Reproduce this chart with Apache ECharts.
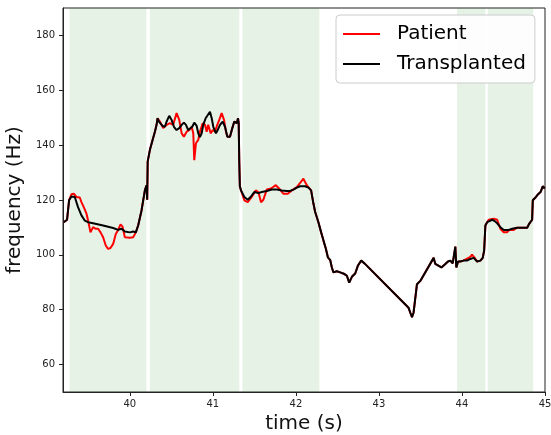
<!DOCTYPE html>
<html><head><meta charset="utf-8">
<script src="https://cdn.jsdelivr.net/npm/echarts@6/dist/echarts.min.js"></script>
<style>html,body{margin:0;padding:0;background:#fff}#c{width:551px;height:435px}</style>
</head><body><div id="c"></div>
<script>
const xTicks = [40, 41, 42, 43, 44, 45];
const yTicks = [60, 80, 100, 120, 140, 160, 180];
const shadeStart = [39.276, 40.241, 41.355, 43.941, 44.310];
const shadeEnd   = [40.200, 41.318, 42.283, 44.282, 44.858];

const transTime = [39.204,39.244,39.268,39.297,39.316,39.337,39.357,39.376,39.417,39.457,39.497,39.557,39.678,39.799,39.859,39.900,39.940,40.000,40.040,40.072,40.100,40.141,40.181,40.201,40.209,40.215,40.241,40.274,40.302,40.322,40.334,40.350,40.370,40.394,40.422,40.443,40.474,40.503,40.531,40.563,40.595,40.624,40.651,40.676,40.703,40.724,40.752,40.776,40.805,40.824,40.844,40.865,40.884,40.913,40.937,40.965,40.986,41.005,41.037,41.058,41.086,41.118,41.146,41.174,41.206,41.234,41.258,41.287,41.303,41.311,41.318,41.325,41.339,41.379,41.420,41.460,41.499,41.548,41.589,41.649,41.709,41.770,41.830,41.890,41.930,41.970,42.011,42.051,42.111,42.151,42.183,42.211,42.232,42.271,42.304,42.332,42.361,42.385,42.413,42.433,42.452,42.493,42.533,42.585,42.614,42.642,42.674,42.714,42.746,42.786,42.826,43.357,43.378,43.398,43.417,43.458,43.498,43.659,43.679,43.700,43.752,43.800,43.832,43.860,43.888,43.920,43.932,43.953,43.981,44.017,44.061,44.101,44.141,44.182,44.222,44.250,44.267,44.282,44.303,44.331,44.363,44.395,44.424,44.463,44.503,44.563,44.604,44.665,44.785,44.813,44.845,44.853,44.885,44.917,44.946,44.973,44.997];
const transFreq = [111.9,112.8,119.9,121.3,121.7,121.1,119.2,117.4,114.4,112.5,111.9,111.5,110.7,109.8,109.1,109.5,108.5,108.2,108.5,108.2,110.7,116.2,123.5,125.4,120.1,134.0,138.2,141.9,144.9,147.4,149.8,148.6,149.2,147.0,146.7,148.6,150.7,149.2,146.7,145.5,146.2,147.4,148.2,147.4,145.5,145.3,146.7,148.2,147.0,144.3,142.9,144.3,147.4,149.8,149.2,152.2,149.8,146.7,144.3,145.5,147.4,148.6,146.7,143.1,143.1,146.2,148.6,148.0,149.8,148.0,134.0,125.0,123.5,121.1,120.1,121.3,122.9,122.5,122.9,123.3,123.8,123.8,123.5,123.3,123.3,123.8,124.5,125.0,125.0,124.5,123.5,118.7,115.6,111.9,108.2,105.2,102.2,99.1,98.1,95.4,93.6,94.0,93.6,93.0,92.4,89.9,92.0,93.2,96.0,97.9,96.9,80.7,78.9,77.3,78.9,89.3,90.5,98.9,96.7,96.0,95.4,96.7,97.6,97.9,96.9,103.0,95.4,97.6,97.6,97.9,97.9,98.5,98.9,97.6,97.9,98.9,101.5,110.7,111.9,112.3,112.8,112.3,111.5,110.1,109.1,109.1,109.5,109.9,109.9,111.5,112.8,119.9,120.9,122.1,122.9,125.0,124.2];

const patientTime = [39.204,39.244,39.268,39.297,39.325,39.357,39.397,39.417,39.445,39.478,39.497,39.526,39.557,39.590,39.618,39.647,39.678,39.710,39.738,39.767,39.799,39.831,39.859,39.888,39.912,39.940,40.000,40.040,40.072,40.100,40.141,40.181,40.201,40.209,40.215,40.241,40.274,40.302,40.322,40.334,40.362,40.402,40.443,40.483,40.522,40.563,40.595,40.624,40.651,40.684,40.715,40.744,40.764,40.776,40.796,40.824,40.844,40.877,40.905,40.925,40.944,40.973,40.998,41.025,41.053,41.077,41.106,41.134,41.158,41.174,41.206,41.234,41.258,41.287,41.303,41.311,41.318,41.325,41.339,41.379,41.420,41.468,41.516,41.548,41.580,41.608,41.649,41.701,41.758,41.797,41.849,41.902,41.951,42.011,42.051,42.090,42.131,42.183,42.211,42.232,42.271,42.304,42.332,42.361,42.385,42.413,42.433,42.452,42.493,42.533,42.585,42.614,42.642,42.674,42.714,42.746,42.786,42.826,43.357,43.378,43.398,43.417,43.458,43.498,43.659,43.679,43.700,43.752,43.800,43.832,43.860,43.888,43.920,43.932,43.953,43.981,44.017,44.041,44.101,44.121,44.153,44.182,44.222,44.250,44.267,44.282,44.303,44.322,44.383,44.424,44.463,44.503,44.543,44.572,44.623,44.665,44.785,44.813,44.845,44.853,44.885,44.917,44.946,44.973,44.997];
const patientFreq = [111.9,112.8,119.9,122.1,122.3,121.1,120.9,119.2,117.4,115.0,112.5,108.2,110.1,109.5,109.5,108.2,106.4,103.4,102.2,102.5,104.0,107.6,109.1,111.1,110.3,106.4,106.2,106.4,108.2,110.7,116.2,123.5,125.4,120.1,134.0,138.2,141.9,144.9,147.4,149.8,148.6,146.2,147.4,148.0,147.4,151.7,149.2,144.3,143.1,144.9,145.5,146.7,144.3,134.5,140.7,141.9,144.9,148.0,147.4,144.9,147.4,144.3,145.5,144.9,147.4,149.2,151.7,149.2,144.9,143.1,143.1,146.2,148.6,148.0,149.8,148.0,134.0,125.0,123.5,119.9,119.2,121.1,123.5,122.9,119.2,120.1,123.8,124.2,125.4,124.2,122.3,122.3,123.5,124.7,126.2,127.8,125.4,123.5,118.7,115.6,111.9,108.2,105.2,102.2,99.1,98.1,95.4,93.6,94.0,93.6,93.0,92.4,89.9,92.0,93.2,96.0,97.9,96.9,80.7,78.9,77.3,78.9,89.3,90.5,98.9,96.7,96.0,95.4,96.7,97.6,97.9,96.9,103.0,95.4,97.6,97.6,97.9,98.1,99.3,100.1,98.9,97.6,97.9,98.9,101.5,110.7,111.9,112.8,113.2,112.8,109.5,108.2,108.2,109.1,109.1,109.9,109.9,111.5,112.8,119.9,120.9,122.1,122.9,125.0,124.2];

const zip = (t, f) => t.map((x, i) => [x, f[i]]);
const areas = shadeStart.map((s, i) => [{ xAxis: s }, { xAxis: shadeEnd[i] }]);
const FONT = 'DejaVu Sans';

const chart = echarts.init(document.getElementById('c'), null, { renderer: 'canvas' });
chart.setOption({
  animation: false,
  textStyle: { fontFamily: FONT },
  grid: { left: 63, right: 6, top: 8, bottom: 43, outerBoundsMode: 'none', containLabel: false,
          show: true, borderColor: '#222', borderWidth: 1, backgroundColor: 'transparent' },
  xAxis: {
    type: 'value', min: 39.195, max: 45,
    name: 'time (s)', nameLocation: 'middle', nameGap: 22,
    nameTextStyle: { fontSize: 20, color: '#111', fontFamily: FONT, verticalAlign: 'top' },
    axisLine: { show: true, onZero: false, lineStyle: { color: '#222' } },
    axisTick: { show: true, inside: false, length: 4, customValues: xTicks, lineStyle: { color: '#222' } },
    axisLabel: { customValues: xTicks, fontSize: 10, color: '#222', margin: 7, fontFamily: FONT },
    splitLine: { show: false }
  },
  yAxis: {
    type: 'value', min: 50, max: 190,
    name: 'frequency (Hz)', nameLocation: 'middle', nameGap: 32,
    nameTextStyle: { fontSize: 20, color: '#111', fontFamily: FONT },
    axisLine: { show: true, onZero: false, lineStyle: { color: '#222' } },
    axisTick: { show: true, inside: false, length: 4, customValues: yTicks, lineStyle: { color: '#222' } },
    axisLabel: { customValues: yTicks, fontSize: 10, color: '#222', margin: 8, fontFamily: FONT },
    splitLine: { show: false }
  },
  legend: {
    orient: 'vertical', left: 336, top: 15,
    padding: [9, 9, 9, 7], itemGap: 10,
    itemWidth: 37, itemHeight: 2,
    backgroundColor: 'rgba(255,255,255,0.85)', borderColor: '#cccccc', borderWidth: 1, borderRadius: 4,
    textStyle: { fontSize: 20, color: '#000', fontFamily: FONT, padding: [0, 0, 0, 12] },
    data: [
      { name: 'Patient', icon: 'rect', itemStyle: { color: '#ff0000' } },
      { name: 'Transplanted', icon: 'rect', itemStyle: { color: '#000000' } }
    ]
  },
  series: [
    {
      name: 'Patient', type: 'line', showSymbol: false, symbol: 'none',
      data: zip(patientTime, patientFreq),
      lineStyle: { color: '#ff0000', width: 2 }, itemStyle: { color: '#ff0000' },
      markArea: { silent: true, itemStyle: { color: 'rgba(0,128,0,0.1)' }, data: areas },
      z: 2
    },
    {
      name: 'Transplanted', type: 'line', showSymbol: false, symbol: 'none',
      data: zip(transTime, transFreq),
      lineStyle: { color: '#000000', width: 2 }, itemStyle: { color: '#000000' },
      z: 3
    }
  ]
});
</script></body></html>
